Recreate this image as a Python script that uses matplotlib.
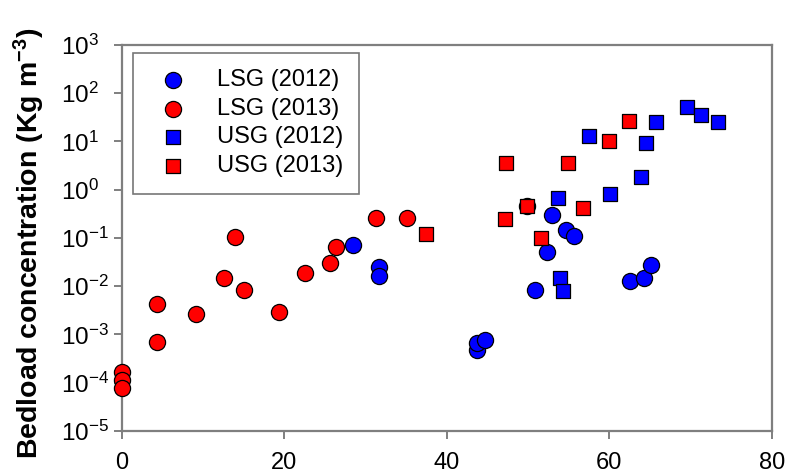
import matplotlib
matplotlib.use("Agg")
import matplotlib.pyplot as plt
from matplotlib.ticker import FixedLocator, LogFormatterSciNotation

plt.rcParams['font.family'] = ['Liberation Sans', 'DejaVu Sans']
plt.rcParams['mathtext.default'] = 'regular'

# LSG (2012) - blue circles
lsg12_x = [28.5, 31.6, 31.6, 43.7, 43.7, 44.7, 49.9, 50.8, 52.3, 53.0, 54.7, 55.7, 62.5, 64.2, 65.1]
lsg12_y = [0.071, 0.0244, 0.0161, 4.7e-4, 6.5e-4, 7.6e-4, 0.46, 8.5e-3, 0.0515, 0.30, 0.145, 0.11, 0.0129, 0.0147, 0.028]

# LSG (2013) - red circles
lsg13_x = [0, 0, 0, 4.4, 4.4, 9.1, 12.6, 13.9, 15.1, 19.4, 22.5, 25.6, 26.4, 31.3, 35.1]
lsg13_y = [1.66e-4, 1.12e-4, 7.6e-5, 4.2e-3, 6.8e-4, 2.7e-3, 0.0145, 0.105, 8.3e-3, 2.9e-3, 0.019, 0.0305, 0.066, 0.254, 0.254]

# USG (2012) - blue squares
usg12_x = [53.7, 53.9, 54.3, 57.5, 60.1, 63.9, 64.5, 65.7, 69.5, 71.3, 73.4]
usg12_y = [0.68, 0.0145, 7.9e-3, 13.1, 0.81, 1.86, 9.1, 24.9, 52, 35, 24.9]

# USG (2013) - red squares
usg13_x = [37.4, 47.1, 47.3, 49.9, 51.6, 54.9, 56.7, 60.0, 62.4]
usg13_y = [0.12, 0.245, 3.5, 0.46, 0.10, 3.5, 0.41, 10.2, 26.9]

x_ticks = [0, 20, 40, 60, 80]
y_ticks = [1e-5, 1e-4, 1e-3, 1e-2, 1e-1, 1e0, 1e1, 1e2, 1e3]

fig = plt.figure(figsize=(7.95, 4.73), dpi=100)
ax = fig.add_axes([0.153, 0.089, 0.818, 0.816])

circ = dict(marker='o', s=135, edgecolors='black', linewidths=0.9, clip_on=False, zorder=3)
sq = dict(marker='s', s=95, edgecolors='black', linewidths=0.9, clip_on=False, zorder=4)

ax.scatter(lsg12_x, lsg12_y, c='#0000ff', label='LSG (2012)', **circ)
ax.scatter(lsg13_x, lsg13_y, c='#ff0000', label='LSG (2013)', **circ)
ax.scatter(usg12_x, usg12_y, c='#0000ff', label='USG (2012)', **sq)
ax.scatter(usg13_x, usg13_y, c='#ff0000', label='USG (2013)', **sq)

ax.set_yscale('log')
ax.set_ylim(1e-5, 1e3)
ax.set_xlim(0, 80)
ax.xaxis.set_major_locator(FixedLocator(x_ticks))
ax.yaxis.set_major_locator(FixedLocator(y_ticks))
ax.yaxis.set_major_formatter(LogFormatterSciNotation())
ax.yaxis.set_minor_locator(FixedLocator([]))

for sp in ax.spines.values():
    sp.set_color('#7f7f7f')
    sp.set_linewidth(1.6)

ax.tick_params(axis='both', direction='out', color='#7f7f7f', width=1.4, length=6)
ax.tick_params(axis='x', labelsize=17, pad=9)
# y tick labels are left aligned in the reference
ax.tick_params(axis='y', labelsize=17.5, pad=38)
for lab in ax.get_yticklabels():
    lab.set_horizontalalignment('left')

ax.set_ylabel('Bedload concentration (Kg m$^{-3}$)', fontsize=20.5, fontweight='bold')
ax.yaxis.set_label_coords(-0.115, 0.487)

leg = ax.legend(loc='upper left', bbox_to_anchor=(0.017, 0.98), borderaxespad=0,
                fontsize=17, frameon=True, fancybox=False, labelspacing=0.28,
                handletextpad=0.85, borderpad=0.7, markerscale=1.0)
leg.get_frame().set_edgecolor('#555555')
leg.get_frame().set_linewidth(1.2)

fig.savefig('out.png', dpi=100)
